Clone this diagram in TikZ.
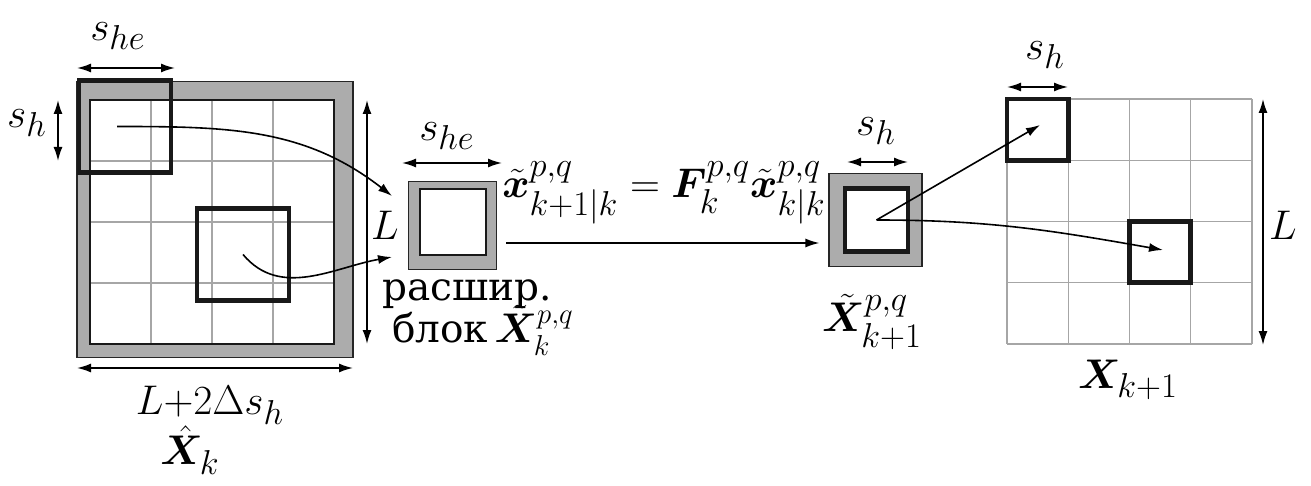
\documentclass[tikz,border=0pt]{standalone}
\usepackage{amsmath}
\usepackage{bm}
\usepackage{fontspec}
\setmainfont{Liberation Serif}
\newfontfamily\cyrfont{DejaVu Serif}
\usetikzlibrary{positioning}
\usetikzlibrary{arrows.meta}
\DeclareMathSizes{20.74}{20.74}{17.28}{14.4}

\tikzset{
    every node/.style={font=\fontsize{20.74}{24}\selectfont},
    cyr/.style={font=\cyrfont\fontsize{19.5}{22}\selectfont},
    cellgrid/.style={draw=gray!70, line width=0.7pt},
    frame/.style={draw=black!85, fill=gray!65, line width=0.6pt, inner sep=0pt},
    hole/.style={draw=black!90, fill=white, line width=1pt, inner sep=0pt},
    win/.style={draw=black!90, line width=2.4pt, inner sep=0pt},
    dim/.style={{Latex[length=7pt,width=4.5pt]}-{Latex[length=7pt,width=4.5pt]}, line width=0.8pt},
    link/.style={-{Latex[length=7pt,width=4.5pt]}, line width=0.8pt},
}

\begin{document}
\begin{tikzpicture}[x=0.5pt, y=-0.5pt]
    \useasboundingbox (0,0) rectangle (1311,486);

    % extended image
    \node[frame, minimum size=138pt] (lfrm) at (215,219.5) {};
    \node[hole, minimum size=122pt] (lgrid) at (212,222) {};
    \foreach \i in {1,2,3} {
        \draw[cellgrid] ({90+61*\i},101) -- ({90+61*\i},343);
        \draw[cellgrid] (91,{100+61*\i}) -- (333,{100+61*\i});
    }
    \node[win, minimum size=46pt] (lw1) at (125,126.5) {};
    \node[win, minimum size=46pt] (lw2) at (243,254.5) {};

    \draw[dim] (77,68) -- (175,68);
    \node (she1) at (118,36) {$s_{he}$};
    \draw[dim] (58,100) -- (58,161);
    \node (sh1) at (27,123) {$s_h$};
    \draw[dim] (367,100) -- (367,344);
    \node (L1) at (385,225) {$L$};
    \draw[dim] (77,368) -- (353,368);
    \node (Ld) at (210,405) {$L{+}2\Delta s_h$};
    \node (Xhat) at (190,450) {$\hat{\bm X}_k$};

    % extended block
    \node[frame, minimum size=44pt] (blk) at (452.5,225.5) {};
    \node[hole, minimum size=33pt] (blkin) at (453,222.5) {};
    \draw[dim] (402,163) -- (502,163);
    \node (she2) at (447,136) {$s_{he}$};
    \node[cyr] (ext) at (467,294) {расшир.};
    \node[cyr, anchor=base west] (blok) at (385,343) {блок\,$\tilde{\bm X}_k^{p,q}$};

    \coordinate (lt1) at (392,196);
    \coordinate (lt2) at (392,257);
    \draw[link] ([xshift=-4pt]lw1.center) to[out=0, in=142] (lt1);
    \draw[link] (lw2.center) to[out=-50, in=190] (lt2);

    % predicted block
    \node[frame, minimum size=46.5pt] (rblk) at (875.5,220) {};
    \node[hole, line width=2.4pt, minimum size=31.5pt] (rin) at (876.5,220) {};
    \draw[dim] (847,162) -- (908,162);
    \node (sh2) at (876,131) {$s_h$};
    \node (Xtil) at (872,322) {$\tilde{\bm X}^{p,q}_{k+1}$};

    \draw[link] ([xshift=4.5pt, yshift=-8.75pt]blk.east) -- ([xshift=-4.5pt, yshift=-11.5pt]rblk.west);
    \node (eq) at (664,193) {$\tilde{\bm x}^{p,q}_{k+1|k}=\bm F^{p,q}_k\tilde{\bm x}^{p,q}_{k|k}$};

    % next image
    \foreach \i in {0,...,4} {
        \draw[cellgrid] ({1007+61.25*\i},99) -- ({1007+61.25*\i},344);
        \draw[cellgrid] (1007,{99+61.25*\i}) -- (1252,{99+61.25*\i});
    }
    \node[win, minimum size=30.6pt] (rw1) at (1037.6,129.6) {};
    \node[win, minimum size=30.6pt] (rw2) at (1160.1,252.1) {};

    \draw[dim] (1007,87) -- (1068,87);
    \node (sh3) at (1045,55) {$s_h$};
    \draw[dim] (1263,99) -- (1263,345);
    \node (L2) at (1283,225) {$L$};
    \node (Xnext) at (1128,380) {$\bm X_{k+1}$};

    \coordinate (rt1) at (1040,125);
    \coordinate (rt2) at (1163,250);
    \draw[link] (rin.center) -- (rt1);
    \draw[link] (rin.center) to[out=0, in=170] (rt2);
\end{tikzpicture}
\end{document}
